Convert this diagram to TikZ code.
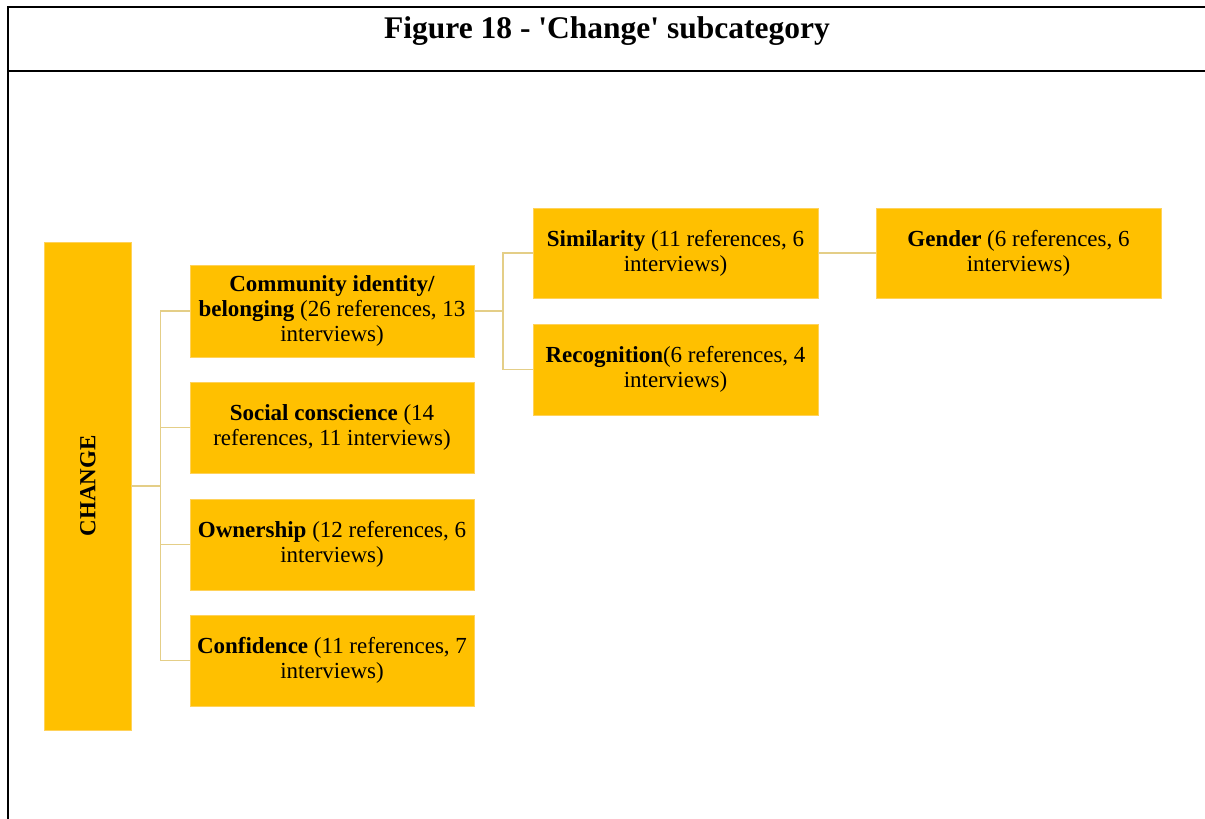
\documentclass[tikz,border=0pt]{standalone}
\usepackage{fontspec}
\setmainfont{Liberation Serif}
\usetikzlibrary{calc}
\definecolor{boxgold}{RGB}{255,192,0}
\definecolor{boxedge}{RGB}{255,210,90}
\definecolor{linktan}{RGB}{228,206,135}
\begin{document}
\begin{tikzpicture}[x=1pt,y=-1pt,
  catbox/.style={rectangle, fill=boxgold, draw=boxedge, line width=0.8pt,
    inner sep=0pt, align=center, text=black,
    font=\fontsize{23}{25}\selectfont},
  link/.style={draw=linktan, line width=1.8pt},
  frameline/.style={draw=black, line width=2pt}]
  % page extent
  \useasboundingbox (0,0) rectangle (1205,819);
  \fill[white] (0,0) rectangle (1205,819);

  % table frame and header rule
  \draw[frameline] (1205,6.5) -- (7.5,6.5) -- (7.5,819);
  \draw[frameline] (7.5,71) -- (1205,71);
  \node[anchor=base, font=\fontsize{31.5}{34}\selectfont\bfseries, inner sep=0pt]
    (title) at (607,38) {Figure 18 - \textquotesingle Change\textquotesingle{} subcategory};

  % root
  \node[catbox, minimum width=86.5pt, minimum height=488pt] (change) at (87.75,486)
    {\rotatebox{90}{\textbf{CHANGE}}};

  % first level
  \node[catbox, minimum width=284pt, minimum height=92pt] (comm) at (332,311)
    {\textbf{Community identity/}\\ \textbf{belonging} (26 references, 13\\ interviews)};
  \node[catbox, minimum width=284pt, minimum height=91pt] (soc) at (332,427.5)
    {\textbf{Social conscience} (14\\ references, 11 interviews)};
  \node[catbox, minimum width=284pt, minimum height=91pt] (own) at (332,544.5)
    {\textbf{Ownership} (12 references, 6\\ interviews)};
  \node[catbox, minimum width=284pt, minimum height=91pt] (conf) at (332,660.5)
    {\textbf{Confidence} (11 references, 7\\ interviews)};

  % second level
  \node[catbox, minimum width=285pt, minimum height=90pt] (sim) at (675.5,253)
    {\textbf{Similarity} (11 references, 6\\ interviews)};
  \node[catbox, minimum width=285pt, minimum height=91pt] (rec) at (675.5,369.5)
    {\textbf{Recognition}(6 references, 4\\ interviews)};

  % third level
  \node[catbox, minimum width=285pt, minimum height=90pt] (gen) at (1018.5,253)
    {\textbf{Gender} (6 references, 6\\ interviews)};

  % connectors
  \coordinate (busA) at (160.5,486);
  \coordinate (busB) at (503,311);
  \draw[link] (change.east) -- (busA);
  \draw[link] (comm.west) -| (busA);
  \draw[link] (soc.west) -| (busA);
  \draw[link] (own.west) -| (busA);
  \draw[link] (conf.west) -| (busA);
  \draw[link] (comm.east) -- (busB);
  \draw[link] (sim.west) -| (busB);
  \draw[link] (rec.west) -| (busB);
  \draw[link] (sim.east) -- (gen.west);
\end{tikzpicture}
\end{document}
